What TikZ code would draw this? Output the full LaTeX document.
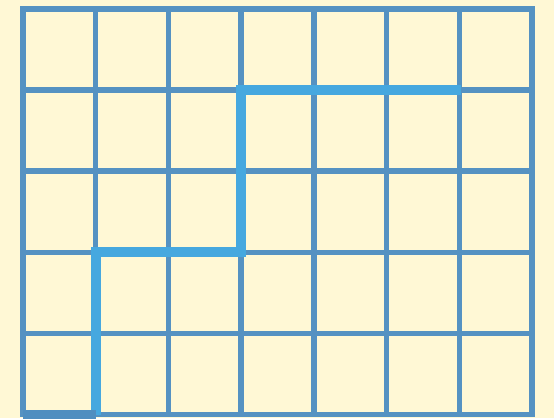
\documentclass[tikz,border=0pt]{standalone}
\definecolor{bgc}{HTML}{FFF8D5}
\definecolor{gridc}{HTML}{5592C2}
\definecolor{pathc}{HTML}{46A8DF}
\definecolor{darkc}{HTML}{4F8EC0}
\tikzset{
  gridline/.style={draw=gridc, line width=5.5pt},
  route/.style={draw=pathc, line width=10pt, line join=miter},
  startseg/.style={draw=darkc, line width=9pt, line cap=square}
}
\begin{document}
\begin{tikzpicture}[x=1pt, y=-1pt]
\fill[bgc] (0,0) rectangle (554,418);
\useasboundingbox (0,0) rectangle (554,418);
% inner grid lines
\foreach \i in {1,...,6} {
  \draw[gridline] ({23+72.71*\i},9) -- ({23+72.71*\i},414.5);
}
\foreach \j in {1,...,4} {
  \draw[gridline] (23,{9+81.1*\j}) -- (532,{9+81.1*\j});
}
% outer frame
\draw[gridline, line join=miter] (23,9) rectangle (532,414.5);
% route
\coordinate (p0) at (95.7,414.5);
\coordinate (p1) at (95.7,252.3);
\coordinate (p2) at (241.1,252.3);
\coordinate (p3) at (241.1,90.1);
\coordinate (p4) at (461,90.1);
\draw[route] (p0) -- (p1) -- (p2) -- (p3) -- (p4);
\coordinate (s0) at (23,414.5);
\draw[startseg] (s0) -- (p0);
\end{tikzpicture}
\end{document}
